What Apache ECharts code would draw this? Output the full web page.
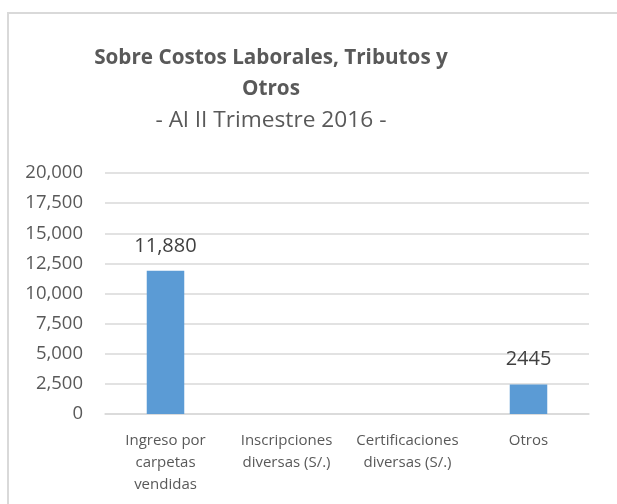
<!DOCTYPE html>
<html>
<head>
<meta charset="utf-8">
<script src="https://cdn.jsdelivr.net/npm/echarts@6/dist/echarts.min.js"></script>
<style>
  html, body { margin: 0; padding: 0; background: #fff; overflow: hidden; }
  #wrap { position: relative; width: 617px; height: 504px; }
  #frame { position: absolute; left: 7px; top: 12px; width: 640px; height: 520px;
           border: 2px solid #d9d9d9; box-sizing: border-box; }
  #chart { position: absolute; left: 0; top: 0; width: 617px; height: 504px; }
</style>
</head>
<body>
<div id="wrap">
  <div id="frame"></div>
  <div id="chart"></div>
</div>
<script>
// Ingresos al II trimestre 2016
const categories = [
  'Ingreso por\ncarpetas\nvendidas',
  'Inscripciones\ndiversas (S/.)',
  'Certificaciones\ndiversas (S/.)',
  'Otros'
];
const values = [11880, 0, 0, 2445];
// how each value label is printed: grouped thousands, plain, or hidden
const labelFormats = ['grouped', 'none', 'none', 'plain'];
const yTicks = { min: 0, max: 20000, interval: 2500 };

const font = 'Open Sans';
const chart = echarts.init(document.getElementById('chart'), null, { renderer: 'canvas' });

chart.setOption({
  backgroundColor: 'transparent',
  animation: false,
  title: {
    text: 'Sobre Costos Laborales, Tributos y\nOtros',
    subtext: '- Al II Trimestre 2016 -',
    left: 266,
    top: 38,
    textAlign: 'center',
    itemGap: 2,
    textStyle: { fontFamily: font, fontWeight: 'bold', fontSize: 20.7, color: '#595959', lineHeight: 31 },
    subtextStyle: { fontFamily: font, fontSize: 22.7, color: '#595959', lineHeight: 28 }
  },
  grid: { left: 105, right: 28, top: 173, bottom: 90, containLabel: false },
  xAxis: {
    type: 'category',
    data: categories,
    axisTick: { show: false },
    axisLine: { lineStyle: { color: '#d9d9d9', width: 1.5 } },
    axisLabel: {
      interval: 0, margin: 16, fontFamily: font, fontSize: 15, color: '#595959', lineHeight: 22
    }
  },
  yAxis: {
    type: 'value',
    min: yTicks.min, max: yTicks.max, interval: yTicks.interval,
    axisLine: { show: false },
    axisTick: { show: false },
    splitLine: { lineStyle: { color: '#d9d9d9', width: 1.5 } },
    axisLabel: {
      margin: 22, fontFamily: font, fontSize: 18.5, color: '#595959',
      formatter: v => v.toLocaleString('en-US')
    }
  },
  series: [{
    type: 'bar',
    barWidth: '31%',
    itemStyle: { color: '#5b9bd5' },
    data: values.map((v, i) => ({
      value: v,
      label: { show: labelFormats[i] !== 'none' }
    })),
    label: {
      position: 'top', distance: 15, fontFamily: font, fontSize: 20, color: '#404040',
      formatter: p => labelFormats[p.dataIndex] === 'grouped'
        ? p.value.toLocaleString('en-US') : String(p.value)
    }
  }]
});
</script>
</body>
</html>
